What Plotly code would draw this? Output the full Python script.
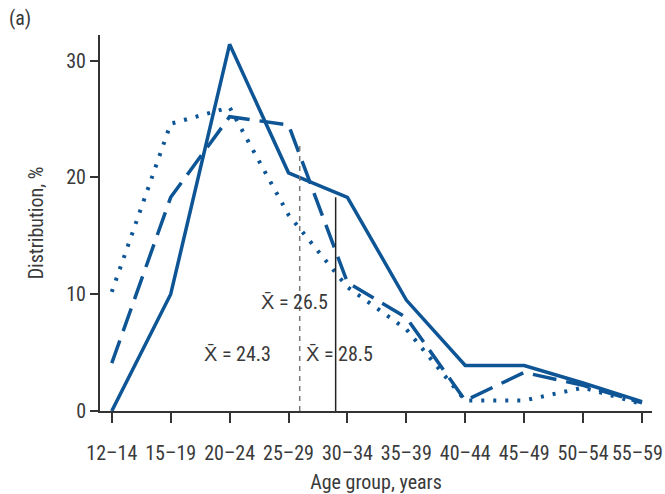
import plotly.graph_objects as go

age_groups = ["12–14", "15–19", "20–24", "25–29", "30–34", "35–39", "40–44", "45–49", "50–54", "55–59"]
solid_vals = [0.0, 10.0, 31.4, 20.4, 18.3, 9.5, 3.9, 3.9, 2.4, 0.8]
dashed_vals = [4.1, 18.3, 25.2, 24.5, 11.0, 8.0, 0.9, 3.3, 2.2, 0.7]
dotted_vals = [10.2, 24.6, 26.0, 16.8, 10.6, 7.0, 0.9, 0.9, 2.0, 0.6]
y_ticks = [0, 10, 20, 30]

color = "#0e5596"
FONT = "Liberation Sans Narrow, Arial Narrow, Roboto Condensed, Liberation Sans, sans-serif"
TXT = "#3a3a3a"
FS = 20
xi = list(range(len(age_groups)))
# last label padded with no-break spaces so it stays inside the window edge
tick_text = age_groups[:-1] + [age_groups[-1] + "\u00a0\u00a0"]

fig = go.Figure()
fig.add_trace(go.Scatter(x=xi, y=dotted_vals, mode="lines",
                         line=dict(color=color, width=4, dash="3px,9px"), showlegend=False))
fig.add_trace(go.Scatter(x=xi, y=dashed_vals, mode="lines",
                         line=dict(color=color, width=3.5, dash="24px,10px"), showlegend=False))
fig.add_trace(go.Scatter(x=xi, y=solid_vals, mode="lines",
                         line=dict(color=color, width=3.5), showlegend=False))

# mean lines (positions in category-index units)
fig.add_shape(type="line", x0=3.19, x1=3.19, y0=0, y1=22.8, xref="x", yref="y",
              line=dict(color="#777777", width=1.5, dash="5px,5px"))
fig.add_shape(type="line", x0=3.8, x1=3.8, y0=0, y1=18.3, xref="x", yref="y",
              line=dict(color="#222222", width=1.5))

fig.add_annotation(x=3.1, y=9.3, xref="x", yref="y", text="X̄ = 26.5", showarrow=False,
                   font=dict(family=FONT, size=FS, color=TXT))
fig.add_annotation(x=2.13, y=4.9, xref="x", yref="y", text="X̄ = 24.3", showarrow=False,
                   font=dict(family=FONT, size=FS, color=TXT))
fig.add_annotation(x=3.87, y=4.9, xref="x", yref="y", text="X̄ = 28.5", showarrow=False,
                   font=dict(family=FONT, size=FS, color=TXT))
fig.add_annotation(x=-0.168, y=1.045, xref="paper", yref="paper", xanchor="left", yanchor="middle",
                   text="(a)", showarrow=False, font=dict(family=FONT, size=FS, color=TXT))

fig.update_layout(
    width=665, height=494,
    margin=dict(l=100, r=13, t=35, b=83),
    paper_bgcolor="white", plot_bgcolor="white",
    font=dict(family=FONT, size=FS, color=TXT),
    xaxis=dict(
        range=[-0.2, 9.17], tickmode="array", tickvals=xi, ticktext=tick_text,
        showgrid=False, zeroline=False, showline=True, linecolor="#333333", linewidth=2,
        ticks="outside", ticklen=10, tickwidth=2, tickcolor="#333333",
        ticklabelstandoff=13,
        title=dict(text="Age group, years", standoff=16, font=dict(size=FS)),
        tickfont=dict(size=FS), automargin=False, ticklabeloverflow="allow",
    ),
    yaxis=dict(
        range=[0, 32.2], tickmode="array", tickvals=y_ticks,
        showgrid=False, zeroline=False, showline=True, linecolor="#333333", linewidth=2,
        ticks="outside", ticklen=8, tickwidth=2, tickcolor="#333333",
        title=dict(text="Distribution, %", standoff=17, font=dict(size=FS)),
        tickfont=dict(size=FS), automargin=False,
    ),
)

# remove the browser's default 8px body margin so the figure fills the window exactly
fig.write_html("out.html", config={"displayModeBar": False},
               post_script="document.body.style.margin='0';document.body.style.overflow='hidden';")
